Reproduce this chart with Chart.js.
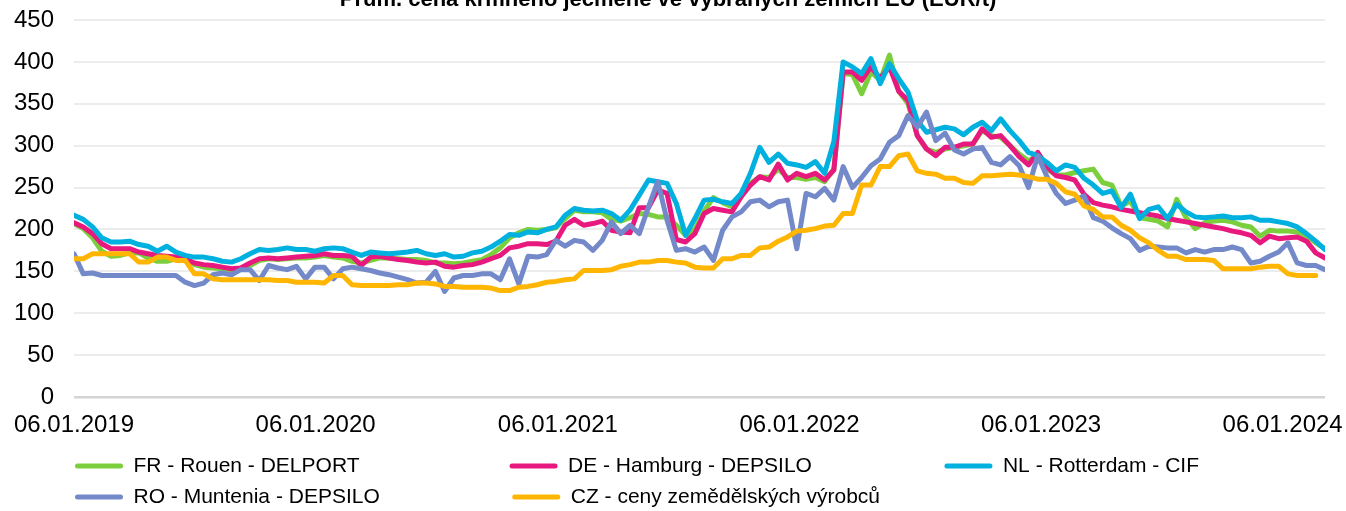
<!DOCTYPE html>
<html><head><meta charset="utf-8">
<script src="https://cdn.jsdelivr.net/npm/chart.js@4.4.1/dist/chart.umd.min.js"></script>
<style>html,body{margin:0;padding:0;background:#fff;}canvas{display:block;}</style>
</head><body>
<canvas id="c" width="1346" height="511"></canvas>
<script>
const chartTitle = 'Prům. cena krmného ječmene ve vybraných zemích EU (EUR/t)';
const sampleStepDays = 14; // one value every two weeks, counted from 06.01.2019
const tickDays = [0, 365, 731, 1096, 1461, 1826];
const tickLabels = ['06.01.2019', '06.01.2020', '06.01.2021', '06.01.2022', '06.01.2023', '06.01.2024'];
const seriesNames = ['FR - Rouen - DELPORT', 'DE - Hamburg - DEPSILO', 'NL - Rotterdam - CIF', 'RO - Muntenia - DEPSILO', 'CZ - ceny zemědělských výrobců'];
const seriesColors = ['#7CCF3C', '#E8197E', '#00B0DE', '#7389C9', '#FFB602'];

const fr = [207,201,190,174,168,169,172,172,166,162,162,165,164,158,155,154,153,152,153,157,163,165,164,165,166,166,167,169,
  167,166,162,160,163,166,166,165,164,164,163,160,160,159,160,162,164,170,178,190,196,200,199,200,202,213,223,
  221,221,220,212,210,214,219,218,215,215,205,193,200,222,238,232,227,240,255,263,262,272,262,262,260,262,257,
  272,386,385,362,388,378,408,365,350,312,296,292,296,298,300,302,318,312,310,300,290,282,288,272,265,265,268,
  270,272,256,253,228,234,214,212,210,203,236,214,201,208,210,211,209,205,203,192,199,198,198,197,192,184,177];
const de = [208,203,195,183,177,177,177,173,171,169,168,167,165,160,158,157,155,153,154,160,165,166,165,166,167,168,169,171,
  169,169,168,157,167,168,166,164,163,161,160,161,156,155,157,158,161,165,169,178,180,183,183,182,186,205,212,
  205,207,210,199,197,196,226,226,247,243,188,185,195,219,225,223,221,239,253,263,259,278,259,267,263,267,259,
  271,388,388,378,394,380,394,365,354,312,296,288,298,298,302,302,320,310,312,300,287,277,292,275,264,262,259,
  242,232,229,227,224,222,220,218,216,213,211,209,207,205,203,201,198,196,193,184,192,189,190,191,186,172,166];
const nl = [217,212,203,190,185,185,186,182,180,174,180,173,169,167,167,165,162,161,165,171,176,175,176,178,176,176,174,177,
  178,177,173,169,173,172,171,172,173,175,171,169,171,167,168,172,174,179,186,194,193,197,196,200,203,217,225,
  223,222,223,219,211,223,241,259,257,255,231,193,213,235,236,233,231,243,267,298,280,290,279,277,274,281,267,
  305,400,394,386,404,374,398,380,364,330,316,319,322,320,313,322,328,318,332,318,306,292,288,280,270,277,274,
  261,253,243,246,226,242,213,224,227,213,230,221,215,214,215,216,214,214,215,211,211,209,207,203,195,186,176];
const ro = [171,147,148,145,145,145,145,145,145,145,145,145,137,133,136,146,148,146,152,152,139,157,154,152,156,141,155,155,
  141,153,155,153,151,148,146,143,140,136,137,150,126,142,145,145,147,147,140,165,135,168,167,170,187,180,187,
  185,175,187,209,195,205,195,227,257,211,175,177,173,179,163,199,215,221,233,235,227,233,235,177,243,239,249,
  235,275,250,262,276,284,304,312,336,322,340,306,315,295,290,296,298,280,277,287,276,250,288,263,243,231,235,
  240,214,210,202,195,189,175,180,179,178,178,172,176,173,176,176,179,176,160,162,168,173,184,160,157,157,152];
const cz = [165,165,171,171,171,171,171,161,161,167,167,163,163,147,147,141,140,140,140,140,140,140,139,139,137,137,137,136,
  145,145,134,133,133,133,133,134,134,136,136,135,132,132,131,131,131,130,127,127,131,132,134,137,138,140,141,
  151,151,151,152,156,158,161,161,163,163,161,160,155,154,154,165,165,169,169,178,179,186,191,198,199,201,204,
  205,219,219,253,253,275,275,288,290,270,267,266,261,261,256,255,264,264,265,266,265,263,260,260,255,245,242,
  228,224,215,215,205,199,190,184,175,168,168,164,164,164,163,153,153,153,153,155,156,156,147,145,145,145,null];

const sampleDays = fr.map((_, i) => i * sampleStepDays);
const seriesValues = [fr, de, nl, ro, cz];
const drawOrder = [5, 4, 3, 2, 1];

const fontFamily = "'Liberation Sans', Arial, sans-serif";
const legendFontSize = 21;
const legendBoxWidth = 48;
const legendPadding = 10;
const legendColumnWidth = 435;
const legendShiftLeft = 9;
const legendShiftUp = 7.5;
const titleShiftUp = 10;

const blockShift = {
  id: 'blockShift',
  afterLayout(chart) {
    const l = chart.legend;
    if (l) { l.left -= legendShiftLeft; l.right -= legendShiftLeft; l.top -= legendShiftUp; l.bottom -= legendShiftUp; }
    const t = chart.titleBlock;
    if (t) { t.top -= titleShiftUp; t.bottom -= titleShiftUp; }
  }
};

new Chart(document.getElementById('c'), {
  type: 'line',
  data: {
    labels: sampleDays,
    datasets: seriesNames.map((name, k) => ({
      label: name,
      data: seriesValues[k],
      borderColor: seriesColors[k],
      backgroundColor: seriesColors[k],
      borderWidth: 5,
      pointRadius: 0,
      pointHoverRadius: 0,
      tension: 0,
      borderJoinStyle: 'round',
      borderCapStyle: 'round',
      fill: false,
      spanGaps: false,
      order: drawOrder[k]
    }))
  },
  options: {
    responsive: false,
    animation: false,
    devicePixelRatio: 1,
    layout: { padding: { left: 11, right: 21, top: 0, bottom: -14 } },
    plugins: {
      title: {
        display: true,
        text: chartTitle,
        color: '#000',
        font: { family: fontFamily, size: 22, weight: 'bold', lineHeight: '20px' },
        padding: { top: 0, bottom: 0 }
      },
      legend: {
        display: true,
        position: 'bottom',
        align: 'start',
        fullSize: false,
        labels: {
          color: '#000',
          font: { family: fontFamily, size: legendFontSize },
          boxWidth: legendBoxWidth,
          boxHeight: 5,
          padding: legendPadding,
          useBorderRadius: true,
          borderRadius: 2.5,
          sort: (a, b) => a.datasetIndex - b.datasetIndex,
          generateLabels(chart) {
            const items = Chart.defaults.plugins.legend.labels.generateLabels(chart);
            const ctx = chart.ctx;
            ctx.save();
            ctx.font = `${legendFontSize}px ${fontFamily}`;
            const target = legendColumnWidth - legendPadding - legendBoxWidth - legendFontSize / 2;
            const sp = ctx.measureText(' ').width;
            items.forEach(it => {
              it.fillStyle = seriesColors[it.datasetIndex];
              it.strokeStyle = 'rgba(0,0,0,0)';
              it.lineWidth = 0;
              if (it.datasetIndex === 0 || it.datasetIndex === 1 || it.datasetIndex === 3) {
                while (ctx.measureText(it.text).width + sp / 2 < target) it.text += ' ';
              }
            });
            ctx.restore();
            return items;
          }
        }
      },
      tooltip: { enabled: false }
    },
    scales: {
      x: {
        type: 'linear',
        min: 0,
        max: sampleDays[sampleDays.length - 1],
        afterBuildTicks: (scale) => { scale.ticks = tickDays.map(v => ({ value: v })); },
        afterFit: (scale) => { scale.paddingLeft = 0; scale.paddingRight = 0; },
        grid: { display: false, drawTicks: false, tickLength: 0 },
        border: { display: false },
        ticks: {
          autoSkip: false,
          maxRotation: 0,
          minRotation: 0,
          padding: 8,
          color: '#000',
          font: { family: fontFamily, size: 24, lineHeight: '40px' },
          callback: (value) => { const k = tickDays.indexOf(value); return k >= 0 ? tickLabels[k] : ''; }
        }
      },
      y: {
        min: 0,
        max: 450,
        afterFit: (scale) => { scale.width = 63; scale.paddingTop = 0; scale.paddingBottom = 0; },
        grid: {
          drawTicks: false,
          tickLength: 0,
          color: (c) => c.tick && c.tick.value === 0 ? '#d4d4d4' : '#ececec',
          lineWidth: (c) => c.tick && c.tick.value === 0 ? 2.5 : 2
        },
        border: { display: false },
        ticks: {
          stepSize: 50,
          padding: 20,
          color: '#000',
          font: { family: fontFamily, size: 24 }
        }
      }
    }
  },
  plugins: [blockShift]
});
</script>
</body></html>
